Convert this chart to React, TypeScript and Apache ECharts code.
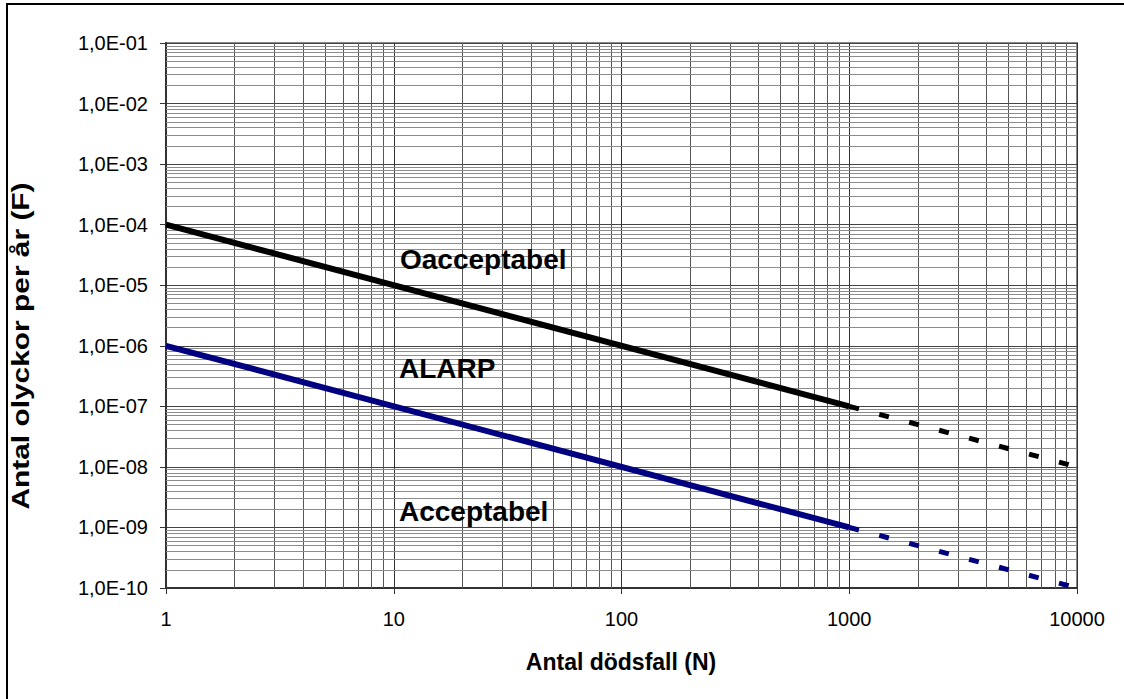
import React, { useEffect, useRef } from 'react';
import * as echarts from 'echarts';

// ---- data ----
const xMin = 1;
const xMax = 10000;
const yMin = 1e-10;
const yMax = 1e-1;
const xDecades = [1, 10, 100, 1000];
const yDecades = [1e-10, 1e-9, 1e-8, 1e-7, 1e-6, 1e-5, 1e-4, 1e-3, 1e-2];
const minorMultipliers = [2, 3, 4, 5, 6, 7, 8, 9];

const nSolid = [1, 1000];
const nDashed = [1000, 10000];
const unacceptableSolid = [1e-4, 1e-7];
const unacceptableDashed = [1e-7, 1e-8];
const acceptableSolid = [1e-6, 1e-9];
const acceptableDashed = [1e-9, 1e-10];

const regionLabels = ['Oacceptabel', 'ALARP', 'Acceptabel'];
const xTitle = 'Antal dödsfall (N)';
const yTitle = 'Antal olyckor per år (F)';

const FONT = '"Liberation Sans", Arial, Helvetica, sans-serif';

function pairs(xs: number[], ys: number[]) {
  return xs.map((x, i) => [x, ys[i]]);
}

function fmtY(v: number) {
  const e = Math.round(Math.log10(v));
  const s = e < 0 ? '-' : '+';
  const a = Math.abs(e);
  return '1,0E' + s + (a < 10 ? '0' + a : String(a));
}

const xMinor: number[] = [];
xDecades.forEach((d) => minorMultipliers.forEach((m) => xMinor.push(d * m)));
const yMinor: number[] = [];
yDecades.forEach((d) => minorMultipliers.forEach((m) => yMinor.push(d * m)));

export default function App() {
  const ref = useRef<HTMLDivElement>(null);
  useEffect(() => {
    const chart = echarts.init(ref.current!, null, { renderer: 'svg' });
    const option: any = {
      animation: false,
      backgroundColor: '#ffffff',
      grid: {
        left: 166,
        top: 43,
        right: 47,
        bottom: 111,
        show: true,
        borderColor: '#8a8a8a',
        borderWidth: 2,
        backgroundColor: 'transparent',
      },
      xAxis: {
        type: 'log',
        logBase: 10,
        min: xMin,
        max: xMax,
        interval: 1,
        axisLine: { show: true, lineStyle: { color: '#333', width: 2 } },
        axisTick: { show: true, inside: false, length: 6, lineStyle: { color: '#333', width: 1 } },
        axisLabel: {
          color: '#000',
          fontSize: 20,
          fontFamily: FONT,
          margin: 21,
          formatter: (v: number) => String(Math.round(v)),
        },
        splitLine: { show: true, lineStyle: { color: '#333333', width: 1 } },
      },
      yAxis: {
        type: 'log',
        logBase: 10,
        min: yMin,
        max: yMax,
        interval: 1,
        axisLine: { show: true, lineStyle: { color: '#333', width: 2 } },
        axisTick: { show: true, inside: false, length: 6, lineStyle: { color: '#333', width: 1 } },
        axisLabel: {
          color: '#000',
          fontSize: 20,
          fontFamily: FONT,
          margin: 18,
          formatter: (v: number) => fmtY(v),
        },
        splitLine: { show: true, lineStyle: { color: '#444444', width: 1 } },
      },
      series: [
        {
          name: 'xMinorGrid',
          type: 'line',
          data: [[1, 1e-10]],
          showSymbol: false,
          symbol: 'none',
          silent: true,
          lineStyle: { opacity: 0 },
          z: 1,
          markLine: {
            silent: true,
            symbol: 'none',
            precision: 20,
            z: 1,
            label: { show: false },
            emphasis: { disabled: true },
            lineStyle: { color: '#555555', width: 1, type: 'solid' },
            data: xMinor.map((v) => ({ xAxis: v })),
          },
        },
        {
          name: 'yMinorGrid',
          type: 'line',
          data: [[1, 1e-10]],
          showSymbol: false,
          symbol: 'none',
          silent: true,
          lineStyle: { opacity: 0 },
          z: 1,
          markLine: {
            silent: true,
            symbol: 'none',
            precision: 20,
            z: 1,
            label: { show: false },
            emphasis: { disabled: true },
            lineStyle: { color: '#8c8c8c', width: 1, type: 'solid' },
            data: yMinor.map((v) => ({ yAxis: v })),
          },
        },
        {
          name: 'Oacceptabel gräns',
          type: 'line',
          data: pairs(nSolid, unacceptableSolid),
          symbol: 'none',
          z: 5,
          lineStyle: { color: '#000000', width: 6 },
        },
        {
          name: 'Oacceptabel gräns (extrapolerad)',
          type: 'line',
          data: pairs(nDashed, unacceptableDashed),
          symbol: 'none',
          z: 5,
          lineStyle: { color: '#000000', width: 5, type: [10, 21] },
        },
        {
          name: 'Acceptabel gräns',
          type: 'line',
          data: pairs(nSolid, acceptableSolid),
          symbol: 'none',
          z: 5,
          lineStyle: { color: '#000080', width: 6 },
        },
        {
          name: 'Acceptabel gräns (extrapolerad)',
          type: 'line',
          data: pairs(nDashed, acceptableDashed),
          symbol: 'none',
          z: 5,
          lineStyle: { color: '#000080', width: 5, type: [10, 21] },
        },
      ],
      graphic: [
        {
          type: 'rect',
          z: 100,
          silent: true,
          shape: { x: 7, y: 4, width: 1140, height: 720 },
          style: { fill: 'none', stroke: '#000', lineWidth: 2 },
        },
        {
          type: 'text',
          x: 621,
          y: 662,
          z: 100,
          style: {
            text: xTitle,
            font: 'bold 23px ' + FONT,
            fill: '#000',
            align: 'center',
            verticalAlign: 'middle',
          },
        },
        {
          type: 'text',
          x: 21,
          y: 346,
          rotation: Math.PI / 2,
          scaleX: 1.3,
          z: 100,
          style: {
            text: yTitle,
            font: 'bold 23px ' + FONT,
            fill: '#000',
            align: 'center',
            verticalAlign: 'middle',
          },
        },
        {
          type: 'text',
          x: 400,
          y: 259,
          z: 100,
          style: { text: regionLabels[0], font: 'bold 28px ' + FONT, fill: '#000', align: 'left', verticalAlign: 'middle' },
        },
        {
          type: 'text',
          x: 399,
          y: 368,
          z: 100,
          style: { text: regionLabels[1], font: 'bold 28px ' + FONT, fill: '#000', align: 'left', verticalAlign: 'middle' },
        },
        {
          type: 'text',
          x: 399,
          y: 511,
          z: 100,
          style: { text: regionLabels[2], font: 'bold 28px ' + FONT, fill: '#000', align: 'left', verticalAlign: 'middle' },
        },
      ],
    };
    chart.setOption(option);
    return () => chart.dispose();
  }, []);
  return (
    <div
      ref={ref}
      style={{ position: 'fixed', left: 0, top: 0, width: 1124, height: 699, background: '#fff' }}
    />
  );
}
